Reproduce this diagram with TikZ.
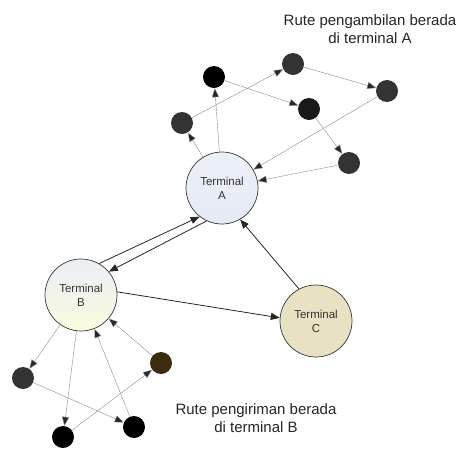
\documentclass[tikz,border=0pt]{standalone}
\usepackage{fontspec}
\setmainfont{Liberation Sans}
\usetikzlibrary{arrows.meta}
\definecolor{dotgray}{HTML}{333333}
\definecolor{dotbrown}{HTML}{3A2C0E}
\definecolor{termblue}{HTML}{E4EAF4}
\definecolor{termbeige}{HTML}{E8E1C4}
\tikzset{
  terminal/.style={circle, draw=black!80, line width=0.7pt, minimum size=72pt, inner sep=0pt, align=center, font=\fontsize{11.5}{14}\selectfont, text=black!80},
  dot/.style={circle, fill=dotgray, minimum size=22pt, inner sep=0pt},
  thinarrow/.style={draw=black!45, line width=0.4pt, -{Triangle[length=9pt,width=7pt,fill=black!85]}},
  mainarrow/.style={draw=black!85, line width=0.8pt, -{Triangle[length=9pt,width=7pt,fill=black!85]}},
  caption/.style={align=center, font=\fontsize{15}{18}\selectfont, text=black!85}
}
\begin{document}
\begin{tikzpicture}[x=1pt,y=-1pt]
\useasboundingbox (0,0) rectangle (460,448);
\fill[white] (0,0) rectangle (460,448);
% terminals
\node[terminal, top color=termblue!70, bottom color=termblue!100] (A) at (222,188) {Terminal\\A};
\node[terminal, top color=termblue!80, bottom color=termblue!60!yellow!30] (B) at (81,295) {Terminal\\B};
\node[terminal, fill=termbeige] (C) at (316,321) {Terminal\\C};
% pickup dots at A
\node[dot] (a1) at (182,123) {};
\node[dot, fill=black] (a2) at (214,77) {};
\node[dot] (a3) at (293,64) {};
\node[dot] (a4) at (387,91) {};
\node[dot, fill=black!90] (a5) at (309,109) {};
\node[dot] (a6) at (349,163) {};
% delivery dots at B
\node[dot] (b1) at (23,378) {};
\node[dot, fill=black] (b2) at (63,437) {};
\node[dot, fill=black] (b3) at (134,427) {};
\node[dot, fill=dotbrown] (b4) at (161,363) {};
% routes at A
\draw[thinarrow] (A) -- (a1);
\draw[thinarrow] (A) -- (a2);
\draw[thinarrow] (a1) -- (a3);
\draw[thinarrow] (a2) -- (a5);
\draw[thinarrow] (a3) -- (a4);
\draw[thinarrow] (a5) -- (a6);
\draw[thinarrow] (a4) -- (A);
\draw[thinarrow] (a6) -- (A);
% routes at B
\draw[thinarrow] (B) -- (b1);
\draw[thinarrow] (B) -- (b2);
\draw[thinarrow] (b1) -- (b3);
\draw[thinarrow] (b2) -- (b4);
\draw[thinarrow] (b3) -- (B);
\draw[thinarrow] (b4) -- (B);
% main routes
\draw[mainarrow] (B.60) -- (A.232);
\draw[mainarrow] (A.245) -- (B.40);
\draw[mainarrow] (B.5) -- (C.175);
\draw[mainarrow] (C.118) -- (A.300);
% captions
\node[caption] (capA) at (370,29) {Rute pengambilan berada\\di terminal A};
\node[caption] (capB) at (256,418) {Rute pengiriman berada\\di terminal B};
\end{tikzpicture}
\end{document}
